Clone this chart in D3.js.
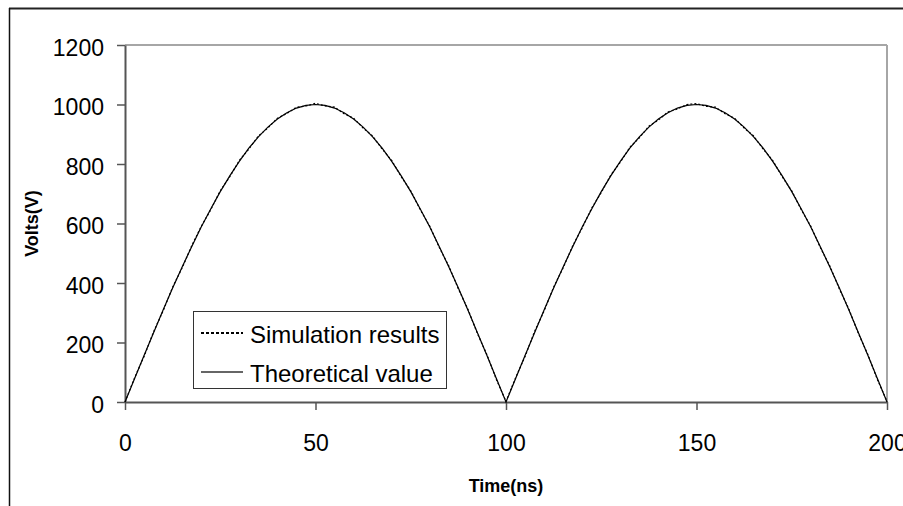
<!DOCTYPE html>
<html>
<head>
<meta charset="utf-8">
<script src="https://cdn.jsdelivr.net/npm/d3@7"></script>
<style>
  html, body { margin: 0; padding: 0; background: #fff; }
  svg { display: block; font-family: "Liberation Sans", Arial, sans-serif; }
</style>
</head>
<body>
<svg id="chart" width="903" height="506"></svg>
<script>
// Sample times (ns)
const timeNs = [
  0, 2.5, 5, 7.5, 10, 12.5, 15, 17.5, 20, 22.5, 25, 27.5, 30, 32.5, 35, 37.5, 40, 42.5, 45, 47.5,
  50, 52.5, 55, 57.5, 60, 62.5, 65, 67.5, 70, 72.5, 75, 77.5, 80, 82.5, 85, 87.5, 90, 92.5, 95, 97.5,
  100, 102.5, 105, 107.5, 110, 112.5, 115, 117.5, 120, 122.5, 125, 127.5, 130, 132.5, 135, 137.5, 140, 142.5, 145, 147.5,
  150, 152.5, 155, 157.5, 160, 162.5, 165, 167.5, 170, 172.5, 175, 177.5, 180, 182.5, 185, 187.5, 190, 192.5, 195, 197.5,
  200
];

// Theoretical voltage (V)
const theoreticalV = [
  0, 78, 156, 233, 309, 383, 454, 522, 588, 649, 707, 760, 809, 853, 891, 924, 951, 972, 988, 997,
  1000, 997, 988, 972, 951, 924, 891, 853, 809, 760, 707, 649, 588, 522, 454, 383, 309, 233, 156, 78,
  0, 78, 156, 233, 309, 383, 454, 522, 588, 649, 707, 760, 809, 853, 891, 924, 951, 972, 988, 997,
  1000, 997, 988, 972, 951, 924, 891, 853, 809, 760, 707, 649, 588, 522, 454, 383, 309, 233, 156, 78,
  0
];

// Simulated voltage (V)
const simulationV = [
  0, 81, 153, 236, 306, 386, 451, 525, 590, 646, 710, 757, 812, 850, 894, 921, 954, 970, 991, 995,
  1004, 995, 991, 969, 954, 921, 894, 850, 812, 757, 710, 646, 591, 519, 457, 380, 312, 230, 159, 75,
  2, 81, 153, 237, 306, 386, 451, 525, 585, 652, 704, 763, 806, 856, 888, 927, 948, 975, 985, 1000,
  1003, 994, 991, 969, 954, 921, 894, 850, 812, 757, 710, 646, 591, 519, 457, 380, 312, 230, 159, 75,
  2
];

const xTicks = [0, 50, 100, 150, 200];
const yTicks = [0, 200, 400, 600, 800, 1000, 1200];
const seriesNames = ["Simulation results", "Theoretical value"];
const xTitle = "Time(ns)";
const yTitle = "Volts(V)";

const svg = d3.select("#chart");
const plot = { left: 125, right: 887, top: 45, bottom: 402 };

const x = d3.scaleLinear().domain([0, 200]).range([plot.left, plot.right]);
const y = d3.scaleLinear().domain([0, 1200]).range([plot.bottom, plot.top]);

// Outer frame (top and left edges visible)
svg.append("line").attr("x1", 9).attr("y1", 8.5).attr("x2", 903).attr("y2", 8.5)
  .attr("stroke", "#222").attr("stroke-width", 2);
svg.append("line").attr("x1", 9.5).attr("y1", 8).attr("x2", 9.5).attr("y2", 506)
  .attr("stroke", "#111").attr("stroke-width", 1.5);

// Plot box: light top and right edges
svg.append("line").attr("x1", plot.left).attr("y1", plot.top).attr("x2", plot.right).attr("y2", plot.top)
  .attr("stroke", "#a6a6a6").attr("stroke-width", 2);
svg.append("line").attr("x1", plot.right).attr("y1", plot.top).attr("x2", plot.right).attr("y2", plot.bottom)
  .attr("stroke", "#a6a6a6").attr("stroke-width", 2);

// Axes
const fmt = d3.format("d");
const yAxis = d3.axisLeft(y).tickValues(yTicks).tickFormat(fmt).tickSize(8).tickPadding(13).tickSizeOuter(0);
const gy = svg.append("g").attr("transform", `translate(${plot.left},0)`).call(yAxis);
gy.select(".domain").attr("stroke", "#555").attr("stroke-width", 2);
gy.selectAll(".tick line").attr("stroke", "#555").attr("stroke-width", 1.5);
gy.selectAll(".tick text").attr("font-size", 23).attr("fill", "#000")
  .attr("font-family", "'Liberation Sans', Arial, sans-serif").attr("dy", "0.44em");

const xAxis = d3.axisBottom(x).tickValues(xTicks).tickFormat(fmt).tickSize(8).tickPadding(25).tickSizeOuter(0);
const gx = svg.append("g").attr("transform", `translate(0,${plot.bottom})`).call(xAxis);
gx.select(".domain").attr("stroke", "#555").attr("stroke-width", 2);
gx.selectAll(".tick line").attr("stroke", "#555").attr("stroke-width", 1.5);
gx.selectAll(".tick text").attr("font-size", 23).attr("fill", "#000")
  .attr("font-family", "'Liberation Sans', Arial, sans-serif");

// Axis titles
svg.append("text").attr("x", (plot.left + plot.right) / 2).attr("y", 492)
  .attr("text-anchor", "middle").attr("font-size", 18).attr("font-weight", "bold")
  .text(xTitle);
svg.append("text").attr("transform", `translate(38,${(plot.top + plot.bottom) / 2}) rotate(-90)`)
  .attr("text-anchor", "middle").attr("font-size", 18).attr("font-weight", "bold")
  .text(yTitle);

// Curves
const line = d3.line().x((d, i) => x(timeNs[i])).y(d => y(d));
svg.append("path").datum(theoreticalV).attr("d", line)
  .attr("fill", "none").attr("stroke", "#000").attr("stroke-width", 1.2);
svg.append("path").datum(simulationV).attr("d", line)
  .attr("fill", "none").attr("stroke", "#000").attr("stroke-width", 1.2)
  .attr("stroke-dasharray", "2,2");

// Legend
const lg = svg.append("g");
lg.append("rect").attr("x", 193.5).attr("y", 311.5).attr("width", 253).attr("height", 77)
  .attr("fill", "#fff").attr("stroke", "#333").attr("stroke-width", 1);
const rows = [
  { name: seriesNames[0], dash: "3,2", width: 2, yLine: 333, yText: 342.5, color: "#000" },
  { name: seriesNames[1], dash: null, width: 1.3, yLine: 372, yText: 381.5, color: "#333" }
];
rows.forEach(r => {
  lg.append("line").attr("x1", 201).attr("x2", 243).attr("y1", r.yLine).attr("y2", r.yLine)
    .attr("stroke", r.color).attr("stroke-width", r.width)
    .attr("stroke-dasharray", r.dash);
  lg.append("text").attr("x", 250).attr("y", r.yText).attr("font-size", 24).attr("fill", "#000")
    .text(r.name);
});
</script>
</body>
</html>
